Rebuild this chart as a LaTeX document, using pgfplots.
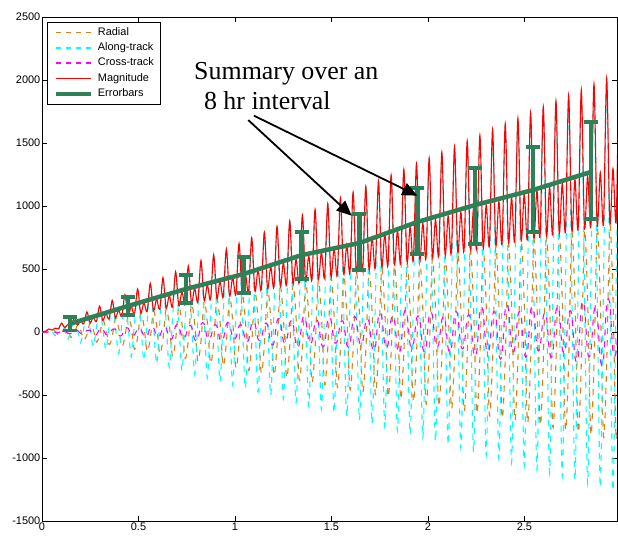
\documentclass[border=0pt]{standalone}
\usepackage{pgfplots}
\pgfplotsset{compat=1.18}
\usepackage{pgfplotstable}
\usepackage{fontspec}
\setmainfont{Liberation Sans}
\newfontfamily\timesfont{Liberation Serif}
\usetikzlibrary{arrows.meta}
\definecolor{cRad}{RGB}{215,130,20}
\definecolor{cAlong}{RGB}{0,255,255}
\definecolor{cCross}{RGB}{255,0,255}
\definecolor{cMag}{RGB}{255,0,0}
\definecolor{cEbar}{RGB}{46,128,87}

\pgfplotstableread{
x R A C M
0.0027 0 -1 0 1
0.0191 -5 2 -1 6
0.0356 -3 24 2 24
0.0520 15 7 3 15
0.0684 6 -29 -3 30
0.0848 -24 11 -4 25
0.1013 -9 69 5 70
0.1177 34 15 6 35
0.1341 12 -57 -10 59
0.1505 -43 19 -11 44
0.1670 -15 114 12 115
0.1834 52 23 13 54
0.1998 18 -85 -11 88
0.2162 -62 28 -12 64
0.2327 -21 158 13 160
0.2491 71 32 14 73
0.2655 24 -113 -20 116
0.2819 -80 36 -21 83
0.2984 -27 203 23 205
0.3148 90 40 24 93
0.3312 30 -141 -18 145
0.3476 -99 44 -19 103
0.3641 -33 248 20 251
0.3805 108 49 20 112
0.3969 36 -169 -26 174
0.4133 -118 53 -27 122
0.4298 -39 292 28 296
0.4462 127 57 30 132
0.4626 42 -197 -22 203
0.4790 -137 61 -23 141
0.4955 -45 337 23 341
0.5119 146 66 24 151
0.5283 48 -225 -33 231
0.5447 -155 70 -34 161
0.5612 -51 382 35 386
0.5776 165 74 36 170
0.5940 53 -252 -30 260
0.6104 -174 78 -31 180
0.6269 -56 426 32 431
0.6433 183 82 32 190
0.6597 59 -280 -48 289
0.6761 -193 87 -49 199
0.6926 -62 471 50 477
0.7090 202 91 51 209
0.7254 65 -308 -41 318
0.7418 -211 95 -42 219
0.7583 -68 516 43 522
0.7747 221 99 44 229
0.7911 71 -336 -60 347
0.8075 -230 103 -61 238
0.8240 -74 560 62 567
0.8404 240 108 64 248
0.8568 77 -364 -46 375
0.8732 -249 112 -47 258
0.8897 -80 605 48 612
0.9061 258 116 49 267
0.9225 83 -392 -61 404
0.9389 -268 120 -62 277
0.9554 -86 650 63 657
0.9718 277 124 64 287
0.9882 89 -420 -47 433
1.0046 -286 129 -48 296
1.0211 -92 694 48 703
1.0375 296 133 49 306
1.0539 95 -448 -66 462
1.0703 -305 137 -67 316
1.0868 -98 739 68 748
1.1032 314 141 70 325
1.1196 101 -476 -56 490
1.1360 -324 145 -57 335
1.1525 -104 784 58 793
1.1689 333 150 59 345
1.1853 107 -504 -86 519
1.2017 -342 154 -87 354
1.2182 -110 828 88 838
1.2346 352 158 90 364
1.2510 113 -532 -71 548
1.2674 -361 162 -72 374
1.2839 -116 873 73 883
1.3003 371 166 74 384
1.3167 119 -560 -100 577
1.3331 -380 171 -101 393
1.3496 -121 918 102 929
1.3660 389 175 103 403
1.3824 124 -588 -74 605
1.3988 -399 179 -75 413
1.4153 -127 962 76 974
1.4317 408 183 77 422
1.4481 130 -615 -96 634
1.4645 -417 187 -97 432
1.4810 -133 1007 98 1019
1.4974 427 192 99 442
1.5138 136 -643 -72 663
1.5302 -436 196 -72 451
1.5467 -139 1052 73 1064
1.5631 445 200 74 461
1.5795 142 -671 -100 692
1.5959 -455 204 -101 471
1.6124 -145 1096 102 1109
1.6288 464 208 103 480
1.6452 148 -699 -83 721
1.6616 -474 213 -84 490
1.6781 -151 1141 85 1155
1.6945 483 217 85 500
1.7109 154 -727 -124 749
1.7273 -492 221 -125 510
1.7438 -157 1186 126 1200
1.7602 502 225 128 519
1.7766 160 -755 -101 778
1.7930 -511 230 -102 529
1.8095 -163 1230 103 1245
1.8259 520 234 104 539
1.8423 166 -783 -139 807
1.8587 -530 238 -141 548
1.8752 -169 1275 142 1290
1.8916 539 242 143 558
1.9080 172 -811 -102 836
1.9244 -548 246 -103 568
1.9409 -175 1320 104 1335
1.9573 558 251 105 577
1.9737 178 -839 -131 864
1.9901 -567 255 -132 587
2.0066 -181 1364 133 1381
2.0230 577 259 134 597
2.0394 184 -867 -96 893
2.0558 -586 263 -97 606
2.0723 -187 1409 98 1426
2.0887 595 267 99 616
2.1051 189 -895 -133 922
2.1215 -605 272 -134 626
2.1380 -192 1454 135 1471
2.1544 614 276 136 636
2.1708 195 -923 -109 951
2.1872 -623 280 -110 645
2.2037 -198 1499 111 1516
2.2201 633 284 112 655
2.2365 201 -951 -162 980
2.2529 -642 288 -163 665
2.2694 -204 1543 165 1561
2.2858 651 293 166 674
2.3022 207 -978 -131 1008
2.3186 -661 297 -131 684
2.3351 -210 1588 132 1607
2.3515 670 301 133 694
2.3679 213 -1006 -179 1037
2.3843 -680 305 -180 703
2.4008 -216 1633 182 1652
2.4172 689 309 183 713
2.4336 219 -1034 -130 1066
2.4500 -698 314 -131 723
2.4665 -222 1677 132 1697
2.4829 708 318 133 732
2.4993 225 -1062 -165 1095
2.5157 -717 322 -167 742
2.5322 -228 1722 168 1742
2.5486 726 326 169 752
2.5650 231 -1090 -121 1123
2.5814 -736 330 -122 762
2.5979 -234 1767 123 1787
2.6143 745 335 124 771
2.6307 237 -1118 -166 1152
2.6471 -754 339 -167 781
2.6636 -240 1811 168 1833
2.6800 764 343 169 791
2.6964 243 -1146 -136 1181
2.7128 -773 347 -137 800
2.7293 -246 1856 138 1878
2.7457 783 351 138 810
2.7621 249 -1174 -200 1210
2.7785 -792 356 -201 820
2.7950 -252 1901 203 1923
2.8114 801 360 204 829
2.8278 255 -1202 -160 1239
2.8442 -811 364 -161 839
2.8607 -257 1945 162 1968
2.8771 820 368 163 849
2.8935 260 -1230 -219 1267
2.9099 -829 372 -220 858
2.9264 -263 1990 221 2013
2.9428 839 377 222 868
2.9592 266 -1258 -159 1296
2.9756 -848 381 -159 878
2.9921 -269 2035 160 2059
3.0085 857 385 161 888
}\orbit

\pgfplotstableread{
x y ep em
0.145 65 55 55
0.445 206 72 71
0.745 341 111 111
1.045 460 135 150
1.345 610 184 189
1.645 706 231 214
1.945 873 270 254
2.245 1008 294 310
2.545 1127 341 333
2.845 1270 397 373
}\summary

\begin{document}
\begin{tikzpicture}
\begin{axis}[
  scale only axis, width=575bp, height=504bp,
  xmin=0, xmax=2.98, ymin=-1500, ymax=2500,
  xtick={0,0.5,1,1.5,2,2.5},
  ytick={-1500,-1000,-500,0,500,1000,1500,2000,2500},
  tick align=inside, major tick length=5bp,
  scaled ticks=false,
  /pgf/number format/assume math mode=true,
  /pgf/number format/1000 sep={},
  tick label style={font=\fontsize{11}{13}\selectfont, inner sep=1.5bp},
  axis line style={line width=0.8bp},
  every tick/.style={black, line width=0.8bp},
  legend cell align=left,
  legend style={at={(0,1)}, anchor=north west, xshift=5bp, yshift=-5bp,
    draw=black, line width=0.8bp, fill=white,
    font=\fontsize{11}{13}\selectfont,
    inner xsep=6bp, inner ysep=5bp, row sep=4.8bp,
    nodes={inner sep=0bp, text height=8bp, text depth=2.5bp}},
  legend image code/.code={\draw[#1] (0bp,0bp) -- (35bp,0bp); \path (40bp,0bp);},
]
\addplot[color=cRad, line width=1.1bp, dash pattern=on 6bp off 6bp, smooth,
  legend image post style={line width=1.6bp, dash pattern=on 5bp off 5bp}] table[x=x,y=R]{\orbit};
\addplot[color=cAlong, line width=1.1bp, dash pattern=on 6bp off 6bp, smooth,
  legend image post style={line width=1.6bp, dash pattern=on 5bp off 5bp}] table[x=x,y=A]{\orbit};
\addplot[color=cCross, line width=1.1bp, dash pattern=on 6bp off 6bp, smooth,
  legend image post style={line width=1.6bp, dash pattern=on 5bp off 5bp}] table[x=x,y=C]{\orbit};
\addplot[color=cMag, line width=1.1bp, smooth,
  legend image post style={line width=1.5bp}] table[x=x,y=M]{\orbit};
\addplot[color=cEbar, line width=4.5bp,
  error bars/.cd, y dir=both, y explicit,
  error bar style={line width=4.5bp},
  error mark options={cEbar, line width=3.5bp, mark size=7bp, rotate=90}]
  table[x=x, y=y, y error plus=ep, y error minus=em]{\summary};
\legend{Radial, Along-track, Cross-track, Magnitude, Errorbars}
\draw[-{Triangle[length=15bp,width=13bp]}, line width=1.8bp] (axis cs:1.069,1682) -- (axis cs:1.605,923);
\draw[-{Triangle[length=15bp,width=13bp]}, line width=1.8bp] (axis cs:1.098,1717) -- (axis cs:1.945,1082);
\node[font=\timesfont\fontsize{26}{30}\selectfont, anchor=base west, inner sep=0pt] at (axis cs:0.788,2006) {Summary over an};
\node[font=\timesfont\fontsize{26}{30}\selectfont, anchor=base west, inner sep=0pt] at (axis cs:0.839,1762) {8 hr interval};
\end{axis}
\pgfresetboundingbox
\useasboundingbox (-42bp,-16bp) rectangle (576bp,521bp);
\end{tikzpicture}
\end{document}
